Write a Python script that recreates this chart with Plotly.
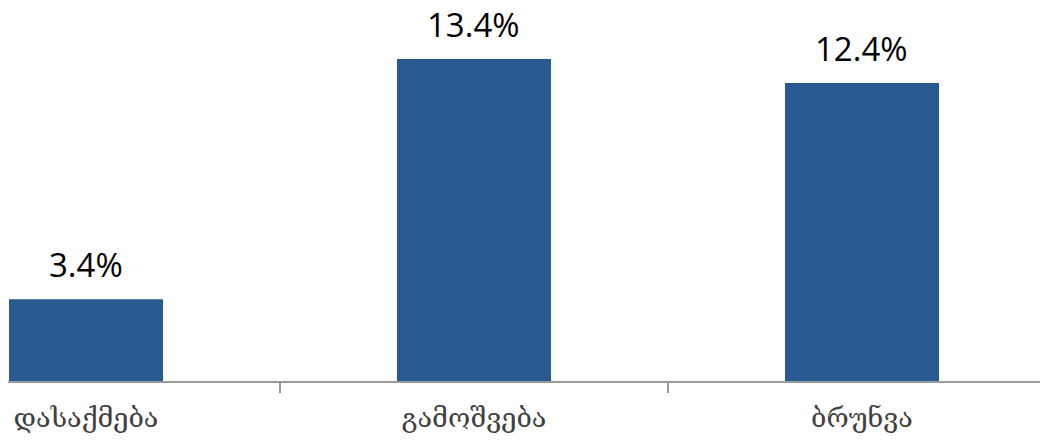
import plotly.graph_objects as go

categories = ["დასაქმება", "გამოშვება", "ბრუნვა"]
values = [3.4, 13.4, 12.4]
labels = ["3.4%", "13.4%", "12.4%"]

BAR_COLOR = "#285a91"

fig = go.Figure()
fig.add_trace(go.Bar(
    x=categories, y=values,
    marker=dict(color=BAR_COLOR, line=dict(width=0)),
    width=0.397,
    hoverinfo="skip",
))

for c, v, t in zip(categories, values, labels):
    fig.add_annotation(
        x=c, y=v, text=t, showarrow=False,
        yanchor="bottom", yshift=10,
        font=dict(family="Open Sans", size=33, color="#000000"),
    )

fig.update_layout(
    width=1040, height=436,
    margin=dict(l=0, r=0, t=0, b=63),
    paper_bgcolor="white", plot_bgcolor="white",
    showlegend=False,
    xaxis=dict(
        range=[-0.2010, 2.4794],
        showline=True, linecolor="#9a9a9a", linewidth=1.5,
        ticks="outside", tickson="boundaries", ticklen=10,
        tickcolor="#9a9a9a", tickwidth=1.5,
        ticklabelstandoff=12,
        tickfont=dict(family="DejaVu Serif", size=27, color="#404040"),
        showgrid=False, automargin=False,
    ),
    yaxis=dict(
        range=[0, 15.52], visible=False, showgrid=False, zeroline=False,
        automargin=False,
    ),
)

fig.write_html("out.html")
